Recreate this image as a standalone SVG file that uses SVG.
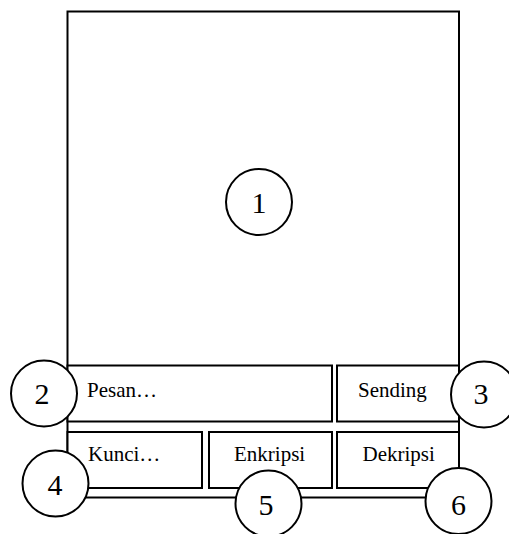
<svg xmlns="http://www.w3.org/2000/svg" width="509" height="534" viewBox="0 0 509 534">
<style>
.box{fill:#fff;stroke:#000;stroke-width:2}
.c{fill:#fff;stroke:#000;stroke-width:2}
.t{font-family:"Liberation Serif","Times New Roman",serif;font-size:21px;fill:#000}
.n{font-family:"Liberation Serif","Times New Roman",serif;font-size:30px;fill:#000;text-anchor:middle}
</style>
<rect width="509" height="534" fill="#fff"/>
<g id="screen"><rect class="box" x="67.5" y="11.5" width="391.5" height="486"/></g>
<g id="pesan"><rect class="box" x="67.5" y="365.5" width="264.5" height="56"/><text class="t" x="87" y="397">Pesan…</text></g>
<g id="sending"><rect class="box" x="337" y="365.5" width="122" height="56"/><text class="t" x="358" y="397">Sending</text></g>
<g id="kunci"><rect class="box" x="67.5" y="432" width="134.5" height="56"/><text class="t" x="88" y="461">Kunci…</text></g>
<g id="enkripsi"><rect class="box" x="209" y="432" width="123" height="56"/><text class="t" x="234" y="461">Enkripsi</text></g>
<g id="dekripsi"><rect class="box" x="337" y="432" width="122" height="56"/><text class="t" x="362.5" y="461">Dekripsi</text></g>
<g id="c1"><circle class="c" cx="259" cy="202" r="33"/><text class="n" x="259" y="213">1</text></g>
<g id="c2"><circle class="c" cx="44" cy="393.5" r="33"/><text class="n" x="42" y="404">2</text></g>
<g id="c3"><circle class="c" cx="484" cy="394.5" r="33"/><text class="n" x="481" y="404">3</text></g>
<g id="c4"><circle class="c" cx="55.5" cy="483.5" r="33"/><text class="n" x="55" y="495">4</text></g>
<g id="c5"><circle class="c" cx="268.5" cy="503.5" r="33"/><text class="n" x="266" y="515">5</text></g>
<g id="c6"><circle class="c" cx="458.5" cy="501" r="33"/><text class="n" x="458.5" y="515">6</text></g>
<g id="connectors"></g>
</svg>
